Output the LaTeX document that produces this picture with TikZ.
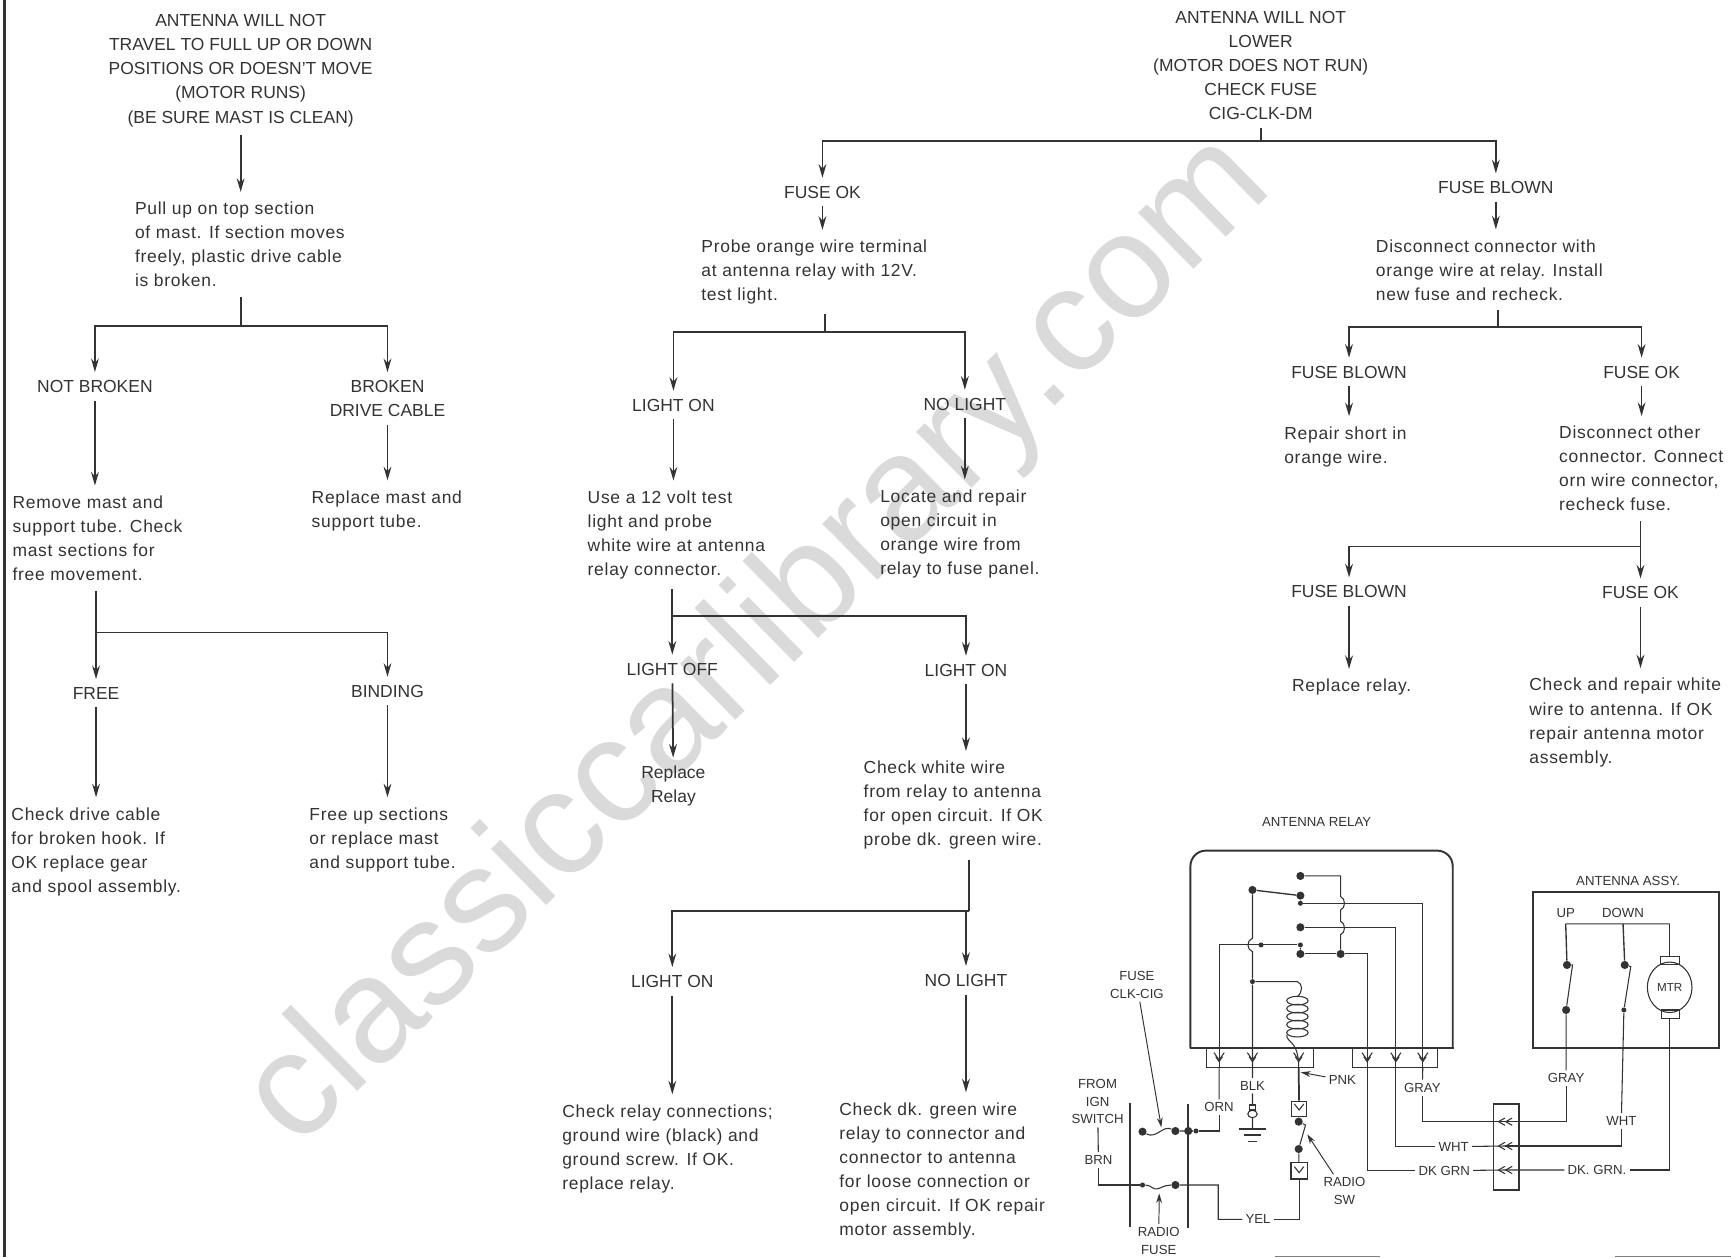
\documentclass[tikz,border=0pt]{standalone}
\usepackage{fontspec}
\usepackage{xcolor}
\usepackage{tikz}
\usetikzlibrary{arrows.meta,shapes.geometric}
\setmainfont{Liberation Sans}
\newfontfamily\spacedfont[LetterSpace=4.2]{Liberation Sans}
\definecolor{ScanInk}{HTML}{333333}
\definecolor{ScanMark}{HTML}{DADADA}

\begin{document}
\begin{tikzpicture}[
  x=.2mm, y=-.2mm,
  head/.style={align=center, inner xsep=2pt, inner ysep=4pt, yshift=-.2mm, text=ScanInk, font=\fontsize{9}{12.4}\selectfont},
  note/.style={anchor=west, align=left, inner xsep=0pt, inner ysep=5pt, yshift=-.1mm, text=ScanInk, font=\spacedfont\fontsize{9}{12.4}\selectfont},
  tag/.style={align=center, inner sep=1.5pt, text=ScanInk, font=\fontsize{6.8}{9.1}\selectfont},
  arrow/.style={-{Stealth[length=7pt,width=4pt]}, line width=.9pt, draw=ScanInk},
  thinarrow/.style={-{Stealth[length=5pt,width=3pt]}, line width=.5pt, draw=ScanInk},
  bus/.style={line width=1pt, draw=ScanInk},
  wire/.style={line width=.55pt, draw=ScanInk},
  frame/.style={line width=1pt, draw=ScanInk},
  dot/.style={circle, fill=ScanInk, inner sep=0pt, minimum size=4.2pt},
  tinydot/.style={circle, fill=ScanInk, inner sep=0pt, minimum size=2.6pt}
]
\useasboundingbox (0,0) rectangle (1568,1139);
\node[rotate=44.5, text=ScanMark, font=\fontsize{76.8}{76.8}\selectfont] (mark) at (688,582) {classiccarlibrary.com};
\coordinate (edgetop) at (4,0);
\coordinate (edgebot) at (4,1139);
\draw[line width=1.2pt, draw=ScanInk] (edgetop) -- (edgebot);
\draw[line width=.5pt, draw=gray] (1155,1138) -- (1250,1138) (1463,1138) -- (1568,1138);

\node[head] (travel) at (218,63) {ANTENNA WILL NOT\\TRAVEL TO FULL UP OR DOWN\\POSITIONS OR DOESN'T MOVE\\(MOTOR RUNS)\\(BE SURE MAST IS CLEAN)};
\node[note] (pull) at (122,221) {Pull up on top section\\of mast.  If section moves\\freely,  plastic drive cable\\is broken.};
\node[head] (notbroken) at (86,349) {NOT BROKEN};
\node[head] (brokencable) at (351,360) {BROKEN\\DRIVE CABLE};
\node[note] (remove) at (11,487) {Remove mast and\\support tube.  Check\\mast sections for\\free movement.};
\node[note] (replace) at (282,462) {Replace mast and\\support tube.};
\node[head] (free) at (87,627) {FREE};
\node[head] (binding) at (351,625) {BINDING};
\node[note] (checkcable) at (10,771) {Check drive cable\\for broken hook.  If\\OK  replace gear\\and spool assembly.};
\node[note] (freeup) at (280,760) {Free up sections\\or replace mast\\and support tube.};

\node[head] (lower) at (1142,58) {ANTENNA WILL NOT\\LOWER\\(MOTOR DOES NOT RUN)\\CHECK FUSE\\CIG-CLK-DM};
\node[head] (fuseok) at (745,173) {FUSE OK};
\node[head] (fuseblown) at (1355,169) {FUSE BLOWN};
\node[note] (probe) at (635,246) {Probe orange wire terminal\\at antenna relay with 12V.\\test light.};
\node[note] (disconnect) at (1246,244) {Disconnect connector with\\orange wire at relay.  Install\\new fuse and recheck.};
\node[head] (lighton) at (610,366) {LIGHT ON};
\node[head] (nolight) at (874,365) {NO LIGHT};
\node[note] (usetest) at (532,484) {Use a 12 volt test\\light and probe\\white wire at antenna\\relay connector.};
\node[note] (locate) at (797,483) {Locate and repair\\open circuit in\\orange wire from\\relay to fuse panel.};
\node[head] (lightoff) at (609,605) {LIGHT OFF};
\node[head] (lightonb) at (875,606) {LIGHT ON};
\node[head] (replacerelay) at (610,711) {Replace\\Relay};
\node[note] (checkwhite) at (782,729) {Check white wire\\from relay to antenna\\for open circuit.  If OK\\probe dk. green wire.};
\node[head] (lightonc) at (609,888) {LIGHT ON};
\node[head] (nolightc) at (875,887) {NO LIGHT};
\node[note] (checkrelay) at (509,1040) {Check relay connections;\\ground wire (black) and\\ground screw.  If OK.\\replace relay.};
\node[note] (checkgreen) at (760,1060) {Check dk. green wire\\relay to connector and\\connector to antenna\\for loose connection or\\open circuit.  If OK repair\\motor assembly.};

\node[head] (blowna) at (1222,336) {FUSE BLOWN};
\node[head] (oka) at (1487,336) {FUSE OK};
\node[note] (repair) at (1163,404) {Repair short in\\orange wire.};
\node[note] (disother) at (1412,424) {Disconnect other\\connector.  Connect\\orn wire connector,\\recheck fuse.};
\node[head] (blownb) at (1222,535) {FUSE BLOWN};
\node[head] (okb) at (1486,536) {FUSE OK};
\node[note] (replaceb) at (1170,622) {Replace relay.};
\node[note] (checkwire) at (1385,654) {Check and repair white\\wire to antenna.  If OK\\repair antenna motor\\assembly.};

\coordinate (busa) at (218,295);
\coordinate (busb) at (87,573);
\coordinate (busc) at (1142,128);
\coordinate (busd) at (747,301);
\coordinate (buse) at (609,558);
\coordinate (busf) at (878,825);
\coordinate (busg) at (1357,296);
\coordinate (bush) at (1486,495);

\draw[arrow] (travel) -- (pull.north -| travel);
\draw[bus] (pull.south -| busa) -- (busa);
\draw[arrow] (busa) -| (notbroken);
\draw[arrow] (busa) -| (brokencable);
\draw[arrow] (notbroken) -- (remove.north -| notbroken);
\draw[arrow] (brokencable) -- (replace.north -| brokencable);
\draw[bus] (remove.south -| busb) -- (busb);
\draw[arrow] (busb) -| (free);
\draw[arrow] (busb) -| (binding);
\draw[arrow] (free) -- (checkcable.north -| free);
\draw[arrow] (binding) -- (freeup.north -| binding);

\draw[bus] (lower) -- (busc);
\draw[arrow] (busc) -| (fuseok);
\draw[arrow] (busc) -| (fuseblown);
\draw[arrow] (fuseok) -- (probe.north -| fuseok);
\draw[arrow] (fuseblown) -- (disconnect.north -| fuseblown);
\draw[bus] (probe.south -| busd) -- (busd);
\draw[arrow] (busd) -| (lighton);
\draw[arrow] (busd) -| (nolight);
\draw[arrow] (lighton) -- (usetest.north -| lighton);
\draw[arrow] (nolight) -- (locate.north -| nolight);
\draw[bus] (usetest.south -| buse) -- (buse);
\draw[arrow] (buse) -| (lightoff);
\draw[arrow] (buse) -| (lightonb);
\draw[arrow] (lightoff) -- (replacerelay);
\draw[arrow] (lightonb) -- (checkwhite.north -| lightonb);
\draw[bus] (checkwhite.south -| busf) -- (busf);
\draw[arrow] (busf) -| (lightonc);
\draw[arrow] (busf) -| (nolightc);
\draw[arrow] (lightonc) -- (checkrelay.north -| lightonc);
\draw[arrow] (nolightc) -- (checkgreen.north -| nolightc);

\draw[bus] (disconnect.south -| busg) -- (busg);
\draw[arrow] (busg) -| (blowna);
\draw[arrow] (busg) -| (oka);
\draw[arrow] (blowna) -- (repair.north -| blowna);
\draw[arrow] (oka) -- (disother.north -| oka);
\draw[bus] (disother.south -| bush) -- (bush);
\draw[arrow] (bush) -| (blownb);
\draw[arrow] (bush) -| (okb);
\draw[arrow] (blownb) -- (replaceb.north -| blownb);
\draw[arrow] (okb) -- (checkwire.north -| okb);

\begin{scope}[shift={(960.1,724.6)}, xscale=.3876, yscale=.302]
\node[tag] (relaytitle) at (600,65) {ANTENNA RELAY};
\node[tag] (assytitle) at (1328,243) {ANTENNA ASSY.};
\draw[frame, rounded corners=8pt] (305,745) -- (305,152) -- (918,152) -- (918,745);
\draw[frame] (303,745) -- (920,745);
\draw[frame] (1105,277) rectangle (1540,745);
\draw[wire] (342,745) -- (342,803) -- (592,803) -- (592,745);
\draw[wire] (683,745) -- (683,803) -- (882,803) -- (882,745);

\foreach \n/\x in {torn/372,tblk/450,tpnk/558,tgrn/718,twht/785,tgray/848} {
  \coordinate (\n) at (\x,803);
  \draw[wire] (\x-12,758) -- (\x,780) -- (\x+12,758);
  \draw[wire] (\x-8,770) -- (\x,785) -- (\x+8,770);
}

\node[dot] (ca) at (562,228) {};
\node[dot] (arm) at (450,270) {};
\node[dot] (cb) at (562,287) {};
\node[tinydot] (cc) at (562,310) {};
\node[dot] (cd) at (562,382) {};
\node[tinydot] (ce) at (562,435) {};
\node[dot] (cf) at (562,462) {};
\node[dot] (cg) at (656,462) {};
\node[tinydot] (ch) at (470,435) {};
\node[tinydot] (ci) at (450,545) {};

\draw[line width=.7pt, draw=ScanInk] (arm) -- (cb);
\draw[wire] (ca) -- (656,228) -- (656,290) .. controls (668,295) and (668,325) .. (656,330) -- (656,364) .. controls (668,369) and (668,399) .. (656,404) -- (cg);
\draw[wire] (cb) -- (cc);
\draw[wire] (ce) -- (cf);
\draw[wire] (cc) -| (tgray);
\draw[wire] (cd) -| (twht);
\draw[wire] (cf) -- (cg);
\draw[wire] (cg) -| (tgrn);
\draw[wire] (ce) -| (torn);
\draw[wire] (arm) -- (450,415) .. controls (436,420) and (436,450) .. (450,455) -- (ci) -- (tblk);
\draw[wire] (ci) -- (555,545) .. controls (568,552) and (568,575) .. (555,590);
\foreach \y in {602,626,650,674,698} {
  \draw[wire] (555,\y) ellipse[x radius=25, y radius=13];
}
\draw[wire] (530,705) .. controls (530,730) and (558,720) .. (tpnk);

\node[tag] (blk) at (450,857) {BLK};
\node[tag] (orn) at (372,922) {ORN};
\node[tag] (pnk) at (660,840) {PNK};
\node[tag] (gray) at (847,863) {GRAY};
\node[tag] (wht) at (920,1040) {WHT};
\node[tag] (dkgrn) at (898,1112) {DK GRN};
\node[tag] (yel) at (463,1258) {YEL};
\node[tag] (radiosw) at (665,1173) {RADIO\\SW};
\node[tag] (ign) at (88,905) {FROM\\IGN\\SWITCH};
\node[tag] (brn) at (90,1080) {BRN};
\node[tag] (fuseclk) at (180,555) {FUSE\\CLK-CIG};
\node[tag] (radiofuse) at (231,1322) {RADIO\\FUSE};
\node[tag] (graya) at (1183,835) {GRAY};
\node[tag] (whta) at (1312,962) {WHT};
\node[tag] (dkgrna) at (1255,1110) {DK. GRN.};
\node[tag] (uptag) at (1182,338) {UP};
\node[tag] (downtag) at (1316,338) {DOWN};
\node[ellipse, draw=ScanInk, line width=.55pt, minimum width=23pt, minimum height=26pt, inner sep=0pt, text=ScanInk, font=\fontsize{6}{7}\selectfont] (motor) at (1425,562) {MTR};

\draw[wire] (tblk) -- (blk);
\draw[wire] (blk) -- (450,915);
\draw[wire] (443,915) rectangle (457,930);
\draw[wire] (450,942) circle[radius=11];
\coordinate (gnd) at (450,987);
\draw[wire] (450,953) -- (gnd);
\draw[line width=.7pt, draw=ScanInk] (418,987) -- (482,987) (430,1005) -- (470,1005) (440,1025) -- (460,1025);

\draw[wire] (torn) -- (orn);
\node[dot] (fta) at (193,995) {};
\node[dot] (ftb) at (270,993) {};
\node[dot] (ftc) at (300,993) {};
\node[tinydot] (ftd) at (318,993) {};
\draw[wire] (orn) |- (ftd);
\draw[wire] (ftb) -- (ftd);
\draw[wire] (fta) .. controls (225,1018) and (240,975) .. (ftb);
\node[tinydot] (fba) at (193,1155) {};
\node[dot] (fbb) at (270,1155) {};
\draw[wire] (fba) .. controls (215,1155) and (215,1172) .. (232,1165) .. controls (245,1158) and (250,1155) .. (fbb);
\draw[frame] (163,910) -- (163,1280);
\draw[frame] (300,912) -- (300,1285);
\draw[wire] (ign) -- (brn);
\draw[wire] (brn) |- (fba);
\draw[wire] (fbb) -- (370,1155) |- (yel);

\draw[thinarrow] (fuseclk) -- (237,982);
\draw[thinarrow] (radiofuse) -- (232,1180);
\draw[thinarrow] (pnk) -- (563,817);
\draw[thinarrow] (radiosw) -- (578,1003);

\node[draw=ScanInk, line width=.55pt, inner sep=0pt, minimum width=7.9pt, minimum height=7.7pt] (jacka) at (559,926) {};
\node[draw=ScanInk, line width=.55pt, inner sep=0pt, minimum width=8.4pt, minimum height=8.6pt] (jackb) at (559,1112) {};
\draw[wire] (548,912) -- (559,930) -- (570,912);
\draw[wire] (548,1100) -- (559,1118) -- (570,1100);
\node[dot] (swa) at (558,965) {};
\node[dot] (swb) at (558,1047) {};
\draw[line width=.9pt, draw=ScanInk] (tpnk) -- (jacka);
\draw[wire] (jacka) -- (swa);
\draw[wire] (swa) -- (574,975) -- (swb);
\draw[wire] (swb) -- (jackb);
\draw[wire] (jackb) |- (yel);

\node[draw=ScanInk, line width=.9pt, inner sep=0pt, minimum width=13.2pt, minimum height=44pt] (plug) at (1043,1041) {};
\foreach \n/\y in {pgray/965,pwht/1038,pgrn/1110} {
  \coordinate (\n) at (1040,\y);
  \draw[wire] (1040,\y-11) -- (1025,\y) -- (1040,\y+11);
  \draw[wire] (1057,\y-11) -- (1042,\y) -- (1057,\y+11);
}
\draw[wire] (tgray) -- (gray);
\draw[wire] (gray) |- (pgray);
\draw[wire] (twht) |- (wht);
\draw[wire] (wht) -- (pwht);
\draw[wire] (tgrn) |- (dkgrn);
\draw[wire] (dkgrn) -- (pgrn);

\node[dot] (upa) at (1185,495) {};
\node[dot] (upb) at (1183,630) {};
\node[dot] (dna) at (1320,495) {};
\node[tinydot] (dnb) at (1318,630) {};
\coordinate (upbar) at (1182,372);
\coordinate (dnbar) at (1316,372);
\draw[wire] (upbar) -- (1425,372);
\draw[line width=.7pt, draw=ScanInk] (upbar) -- (upa);
\draw[line width=.7pt, draw=ScanInk] (dnbar) -- (dna);
\draw[wire] (upa) -- (1198,495) -- (upb);
\draw[wire] (dna) -- (1334,500) -- (dnb);
\draw[wire] (1403,470) rectangle (1447,495);
\draw[wire] (1405,630) rectangle (1447,655);
\draw[wire] (1425,372) -- (1425,470);
\draw[wire] (upb) -- (graya);
\draw[wire] (graya) |- (pgray);
\draw[wire] (dnb) -- (whta);
\draw[wire] (whta) |- (pwht);
\draw[wire] (1425,655) |- (dkgrna);
\draw[wire] (dkgrna) -- (pgrn);
\end{scope}
\end{tikzpicture}
\end{document}
